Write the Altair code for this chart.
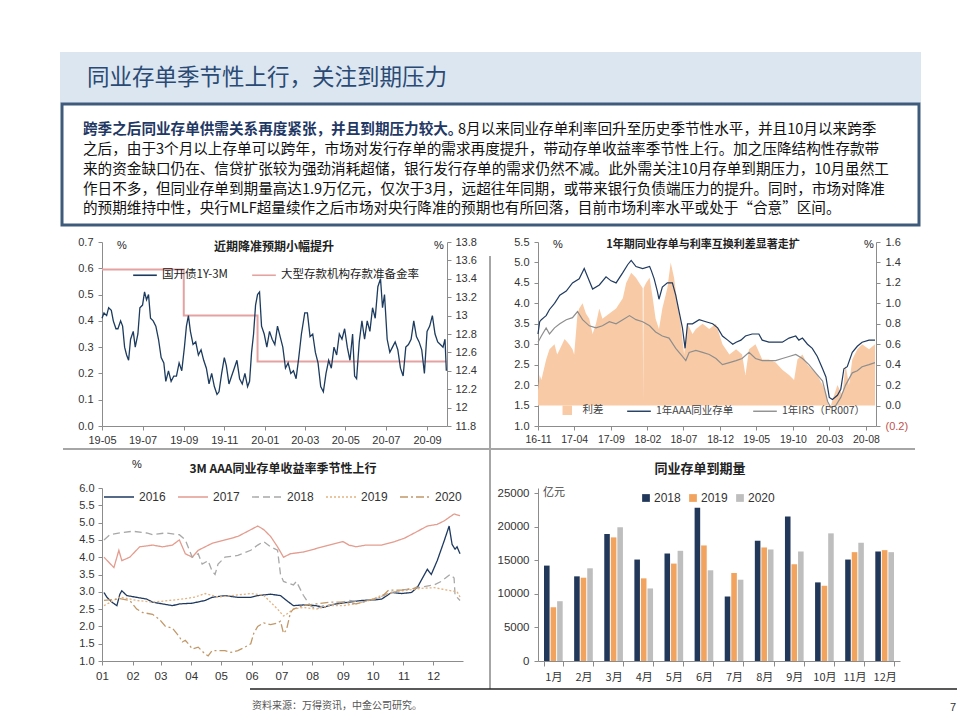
import altair as alt
import pandas as pd

CJK = "Noto Sans CJK SC"
NUM = "Liberation Sans"
AXC = "#8c8c8c"
LBC = "#333333"

# ---------------- page text ----------------
page_title = "同业存单季节性上行，关注到期压力"
lead_text = "跨季之后同业存单供需关系再度紧张，并且到期压力较大。"
body_lines = [
    "8月以来同业存单利率回升至历史季节性水平，并且10月以来跨季",
    "之后，由于3个月以上存单可以跨年，市场对发行存单的需求再度提升，带动存单收益率季节性上行。加之压降结构性存款带",
    "来的资金缺口仍在、信贷扩张较为强劲消耗超储，银行发行存单的需求仍然不减。此外需关注10月存单到期压力，10月虽然工",
    "作日不多，但同业存单到期量高达1.9万亿元，仅次于3月，远超往年同期，或带来银行负债端压力的提升。同时，市场对降准",
    "的预期维持中性，央行MLF超量续作之后市场对央行降准的预期也有所回落，目前市场利率水平或处于“合意”区间。",
]
source_text = "资料来源：万得资讯，中金公司研究。"
page_no = "7"

# ---------------- chart 1 data ----------------
c1_title = "近期降准预期小幅提升"
c1_series = ["国开债1Y-3M", "大型存款机构存款准备金率"]
cdb_dates = [
    "2019-05-01", "2019-05-04", "2019-05-08", "2019-05-11", "2019-05-15", "2019-05-18", "2019-05-22",
    "2019-05-25", "2019-05-29", "2019-06-01", "2019-06-04", "2019-06-07", "2019-06-10", "2019-06-13",
    "2019-06-17", "2019-06-20", "2019-06-24", "2019-06-27", "2019-07-01", "2019-07-04", "2019-07-07",
    "2019-07-10", "2019-07-13", "2019-07-17", "2019-07-21", "2019-07-25", "2019-07-29", "2019-08-02",
    "2019-08-05", "2019-08-09", "2019-08-13", "2019-08-17", "2019-08-21", "2019-08-25", "2019-08-29",
    "2019-09-02", "2019-09-05", "2019-09-08", "2019-09-11", "2019-09-15", "2019-09-19", "2019-09-23",
    "2019-09-27", "2019-10-01", "2019-10-05", "2019-10-09", "2019-10-13", "2019-10-17", "2019-10-21",
    "2019-10-24", "2019-10-28", "2019-11-01", "2019-11-04", "2019-11-08", "2019-11-12", "2019-11-16",
    "2019-11-20", "2019-11-24", "2019-11-28", "2019-12-02", "2019-12-06", "2019-12-09", "2019-12-12",
    "2019-12-15", "2019-12-18", "2019-12-21", "2019-12-24", "2019-12-27", "2019-12-31", "2020-01-04",
    "2020-01-08", "2020-01-12", "2020-01-16", "2020-01-20", "2020-01-24", "2020-01-28", "2020-02-01",
    "2020-02-05", "2020-02-09", "2020-02-13", "2020-02-17", "2020-02-21", "2020-02-25", "2020-03-01",
    "2020-03-05", "2020-03-09", "2020-03-13", "2020-03-17", "2020-03-21", "2020-03-25", "2020-03-29",
    "2020-04-02", "2020-04-06", "2020-04-10", "2020-04-14", "2020-04-18", "2020-04-22", "2020-04-26",
    "2020-04-30", "2020-05-04", "2020-05-08", "2020-05-12", "2020-05-15", "2020-05-18", "2020-05-22",
    "2020-05-26", "2020-05-30", "2020-06-03", "2020-06-07", "2020-06-11", "2020-06-15", "2020-06-19",
    "2020-06-23", "2020-06-26", "2020-06-29", "2020-07-03", "2020-07-07", "2020-07-11", "2020-07-15",
    "2020-07-19", "2020-07-23", "2020-07-27", "2020-07-31", "2020-08-04", "2020-08-08", "2020-08-12",
    "2020-08-16", "2020-08-20", "2020-08-24", "2020-08-28", "2020-09-01", "2020-09-05", "2020-09-09",
    "2020-09-13", "2020-09-17", "2020-09-21", "2020-09-25", "2020-09-28", "2020-09-30",
]
cdb_vals = [
    0.41, 0.43, 0.42, 0.45, 0.44, 0.40, 0.37, 0.37, 0.40, 0.38, 0.30, 0.27, 0.25, 0.33,
    0.36, 0.30, 0.35, 0.45, 0.46, 0.51, 0.48, 0.50, 0.41, 0.40, 0.38, 0.33, 0.26, 0.24,
    0.17, 0.21, 0.17, 0.19, 0.19, 0.24, 0.21, 0.30, 0.38, 0.42, 0.36, 0.31, 0.32, 0.27,
    0.29, 0.25, 0.22, 0.16, 0.20, 0.15, 0.12, 0.13, 0.20, 0.26, 0.23, 0.16, 0.19, 0.22,
    0.25, 0.18, 0.16, 0.20, 0.15, 0.17, 0.28, 0.35, 0.46, 0.50, 0.51, 0.38, 0.35, 0.30,
    0.36, 0.33, 0.31, 0.38, 0.34, 0.30, 0.22, 0.24, 0.20, 0.21, 0.18, 0.26, 0.35, 0.43,
    0.43, 0.34, 0.35, 0.28, 0.24, 0.15, 0.13, 0.20, 0.25, 0.22, 0.30, 0.27, 0.35, 0.33,
    0.37, 0.30, 0.25, 0.35, 0.19, 0.18, 0.32, 0.40, 0.33, 0.40, 0.36, 0.45, 0.41, 0.53,
    0.56, 0.45, 0.50, 0.33, 0.28, 0.30, 0.32, 0.29, 0.22, 0.19, 0.30, 0.31, 0.33, 0.40,
    0.34, 0.32, 0.29, 0.20, 0.36, 0.38, 0.42, 0.35, 0.32, 0.31, 0.30, 0.33, 0.21,
]
rrr_dates = ["2019-05-01", "2019-09-01", "2019-12-21", "2020-09-30"]
rrr_vals = [13.5, 13.0, 12.5, 12.5]
c1_left_ticks = [0.0, 0.1, 0.2, 0.3, 0.4, 0.5, 0.6, 0.7]
c1_right_ticks = [11.8, 12.0, 12.2, 12.4, 12.6, 12.8, 13.0, 13.2, 13.4, 13.6, 13.8]
c1_x_ticks = ["2019-05-01", "2019-07-01", "2019-09-01", "2019-11-01", "2020-01-01",
              "2020-03-01", "2020-05-01", "2020-07-01", "2020-09-01"]
c1_x_domain = ["2019-05-01", "2020-10-01"]

# ---------------- chart 2 data ----------------
c2_title = "1年期同业存单与利率互换利差显著走扩"
c2_series = ["利差", "1年AAA同业存单", "1年IRS（FR007）"]
cd_dates = [
    "2016-11-01", "2016-11-08", "2016-11-15", "2016-11-25", "2016-12-05", "2016-12-19", "2017-01-09",
    "2017-01-31", "2017-02-27", "2017-03-25", "2017-04-22", "2017-05-13", "2017-05-27", "2017-06-17",
    "2017-07-15", "2017-08-12", "2017-09-02", "2017-09-23", "2017-10-21", "2017-11-11", "2017-11-25",
    "2017-12-15", "2018-01-12", "2018-02-10", "2018-02-17", "2018-03-01", "2018-03-14", "2018-03-21",
    "2018-04-04", "2018-04-25", "2018-05-16", "2018-05-30", "2018-06-13", "2018-06-27", "2018-07-08",
    "2018-07-18", "2018-08-08", "2018-09-05", "2018-10-03", "2018-10-31", "2018-11-21", "2018-12-11",
    "2019-01-02", "2019-01-23", "2019-02-06", "2019-02-26", "2019-03-17", "2019-04-14", "2019-05-12",
    "2019-05-26", "2019-06-23", "2019-07-21", "2019-08-18", "2019-09-15", "2019-10-13", "2019-10-26",
    "2019-11-10", "2019-12-01", "2019-12-21", "2020-01-11", "2020-02-02", "2020-02-16", "2020-03-01",
    "2020-03-14", "2020-04-04", "2020-04-18", "2020-05-01", "2020-05-15", "2020-06-05", "2020-06-26",
    "2020-07-16", "2020-08-14", "2020-09-08",
]
cd_vals = [
    3.25, 3.55, 3.6, 3.65, 3.7, 3.85, 4.0, 4.2, 4.3, 4.5, 4.6, 4.85, 4.65, 4.35,
    4.45, 4.65, 4.55, 4.5, 4.75, 4.95, 5.05, 4.9, 4.85, 4.9, 4.8, 4.6, 4.3, 4.1,
    4.4, 4.5, 4.5, 4.2, 3.8, 3.4, 2.9, 3.5, 3.5, 3.6, 3.55, 3.5, 3.4, 3.2,
    3.1, 3.0, 3.05, 3.1, 3.2, 3.25, 3.25, 3.1, 3.05, 3.05, 3.05, 3.15, 3.2, 3.1,
    3.15, 3.0, 2.9, 2.7, 2.4, 2.2, 1.7, 1.65, 1.75, 1.9, 2.4, 2.45, 2.8, 2.95,
    3.05, 3.1, 3.1,
]
irs_dates = [
    "2016-11-01", "2016-11-15", "2016-12-05", "2016-12-19", "2017-01-09", "2017-01-31", "2017-02-27",
    "2017-03-25", "2017-04-15", "2017-05-06", "2017-06-03", "2017-07-01", "2017-07-28", "2017-08-26",
    "2017-09-23", "2017-10-21", "2017-11-18", "2017-12-15", "2018-01-12", "2018-02-10", "2018-03-07",
    "2018-04-04", "2018-05-02", "2018-05-30", "2018-06-27", "2018-07-11", "2018-07-25", "2018-08-22",
    "2018-09-19", "2018-10-17", "2018-11-14", "2018-12-11", "2019-01-09", "2019-02-06", "2019-03-03",
    "2019-04-01", "2019-04-28", "2019-05-26", "2019-06-23", "2019-07-21", "2019-08-18", "2019-09-15",
    "2019-10-13", "2019-11-10", "2019-12-07", "2020-01-04", "2020-02-02", "2020-02-23", "2020-03-07",
    "2020-03-28", "2020-04-18", "2020-05-08", "2020-06-05", "2020-06-26", "2020-07-16", "2020-08-14",
    "2020-09-08",
]
irs_vals = [
    3.05, 3.2, 3.4, 3.25, 3.4, 3.5, 3.6, 3.65, 3.8, 3.6, 3.45, 3.4, 3.45, 3.55,
    3.5, 3.6, 3.7, 3.6, 3.55, 3.45, 3.3, 3.2, 3.15, 2.9, 2.7, 2.6, 2.8, 2.85,
    2.8, 2.75, 2.65, 2.5, 2.55, 2.6, 2.65, 2.8, 2.65, 2.6, 2.6, 2.6, 2.65, 2.7,
    2.75, 2.65, 2.5, 2.3, 2.1, 1.6, 1.45, 1.5, 1.7, 2.0, 2.3, 2.35, 2.45, 2.5,
    2.55,
]
spread_dates = [
    "2016-11-01", "2016-11-08", "2016-11-15", "2016-11-25", "2016-12-05", "2016-12-19", "2017-01-09",
    "2017-01-20", "2017-01-31", "2017-02-20", "2017-03-11", "2017-03-25", "2017-04-01", "2017-04-15",
    "2017-04-22", "2017-05-06", "2017-05-20", "2017-06-03", "2017-06-17", "2017-07-01", "2017-07-15",
    "2017-07-28", "2017-08-26", "2017-09-23", "2017-10-21", "2017-11-04", "2017-11-25", "2017-12-15",
    "2017-12-29", "2018-01-12", "2018-01-14", "2018-01-16", "2018-01-26", "2018-02-10", "2018-02-23",
    "2018-03-07", "2018-03-21", "2018-04-04", "2018-04-25", "2018-05-09", "2018-05-23", "2018-06-06",
    "2018-06-20", "2018-07-04", "2018-07-18", "2018-08-08", "2018-08-22", "2018-09-19", "2018-10-17",
    "2018-11-14", "2018-12-11", "2019-01-09", "2019-02-06", "2019-03-03", "2019-03-17", "2019-04-01",
    "2019-04-28", "2019-05-26", "2019-06-23", "2019-07-21", "2019-08-18", "2019-09-15", "2019-10-06",
    "2019-10-20", "2019-11-10", "2019-12-01", "2019-12-21", "2020-01-11", "2020-02-02", "2020-02-16",
    "2020-03-01", "2020-03-14", "2020-04-04", "2020-04-25", "2020-05-08", "2020-05-22", "2020-06-05",
    "2020-06-26", "2020-07-16", "2020-08-14", "2020-09-08",
]
spread_vals = [
    0.15, 0.3, 0.25, 0.35, 0.45, 0.55, 0.6, 0.5, 0.55, 0.65, 0.6, 0.55, 0.5, 0.9,
    0.95, 1.0, 0.9, 0.85, 0.7, 0.8, 0.95, 0.85, 0.9, 0.95, 1.05, 1.2, 1.3, 1.25,
    1.2, 1.15, 0.05, 1.15, 1.2, 1.25, 1.05, 0.85, 0.75, 0.95, 1.15, 1.4, 1.25, 1.0,
    0.8, 0.5, 0.8, 0.7, 0.75, 0.8, 0.75, 0.8, 0.6, 0.5, 0.55, 0.5, 0.3, 0.55,
    0.6, 0.45, 0.45, 0.42, 0.35, 0.3, 0.25, 0.45, 0.5, 0.4, 0.35, 0.3, 0.2, 0.12,
    -0.05, 0.05, 0.2, 0.1, 0.4, 0.2, 0.45, 0.55, 0.6, 0.55, 0.6,
]
c2_left_ticks = [1.0, 1.5, 2.0, 2.5, 3.0, 3.5, 4.0, 4.5, 5.0, 5.5]
c2_right_ticks = [-0.2, 0.0, 0.2, 0.4, 0.6, 0.8, 1.0, 1.2, 1.4, 1.6]
c2_x_ticks = ["2016-11-01", "2017-04-01", "2017-09-01", "2018-02-01", "2018-07-01",
              "2018-12-01", "2019-05-01", "2019-10-01", "2020-03-01", "2020-08-01"]
c2_x_domain = ["2016-11-01", "2020-09-12"]

# ---------------- chart 3 data ----------------
c3_title = "3M AAA同业存单收益率季节性上行"
c3_years = ["2016", "2017", "2018", "2019", "2020"]
doy_2016 = [2, 5, 10, 15, 18, 20, 25, 35, 45, 51, 61, 71, 78, 91, 104, 111, 124, 137, 150, 157, 170,
            180, 186, 193, 203, 216, 223, 236, 249, 262, 276, 282, 292, 302, 312, 318, 328, 332, 338,
            345, 350, 353, 356, 358, 361]
val_2016 = [2.98, 2.84, 2.7, 2.6, 2.93, 3.03, 2.89, 2.84, 2.79, 2.7, 2.65, 2.6, 2.65, 2.67, 2.75,
            2.84, 2.89, 2.84, 2.84, 2.89, 2.93, 2.89, 2.75, 2.6, 2.62, 2.6, 2.55, 2.65, 2.7, 2.75,
            2.77, 2.79, 2.98, 2.95, 2.98, 3.13, 3.65, 3.5, 3.9, 4.47, 4.9, 4.37, 4.23, 4.3, 4.1]
doy_2017 = [2, 12, 17, 20, 28, 38, 51, 61, 71, 78, 81, 84, 91, 97, 104, 111, 124, 137, 147, 157, 163,
            170, 177, 183, 190, 203, 216, 229, 243, 249, 256, 266, 282, 295, 305, 315, 328, 338, 345,
            355, 361]
val_2017 = [4.0, 3.7, 4.2, 3.9, 4.0, 4.3, 4.35, 4.3, 4.35, 4.5, 4.3, 4.1, 4.0, 4.2, 4.3, 4.4, 4.5,
            4.6, 4.75, 4.9, 4.8, 4.6, 4.3, 4.0, 4.1, 4.15, 4.25, 4.35, 4.45, 4.35, 4.3, 4.35, 4.35,
            4.45, 4.55, 4.7, 4.9, 4.95, 5.05, 5.25, 5.2]
doy_2018 = [2, 8, 18, 31, 45, 51, 64, 78, 84, 91, 97, 101, 107, 111, 114, 117, 124, 137, 150, 157,
            163, 170, 177, 180, 183, 193, 196, 203, 210, 216, 223, 236, 249, 262, 276, 289, 302, 315,
            325, 335, 342, 351, 355, 356, 361]
val_2018 = [4.5, 4.65, 4.7, 4.75, 4.7, 4.65, 4.7, 4.65, 4.5, 4.0, 4.1, 3.8, 3.9, 3.6, 3.5, 3.8, 4.0,
            4.05, 4.2, 4.35, 4.45, 4.3, 4.2, 3.5, 3.3, 3.2, 3.3, 2.9, 2.6, 2.5, 2.6, 2.65, 2.75, 2.7,
            2.8, 2.95, 3.05, 3.1, 3.15, 3.2, 3.3, 3.5, 3.4, 2.9, 2.75]
doy_2019 = [2, 12, 18, 35, 51, 68, 84, 94, 104, 117, 134, 150, 163, 170, 177, 183, 186, 193, 203, 216,
            229, 243, 256, 269, 282, 295, 309, 322, 335, 348, 358, 361]
val_2019 = [2.6, 2.75, 2.85, 2.75, 2.7, 2.75, 2.8, 2.85, 2.95, 2.85, 2.9, 2.95, 2.9, 2.7, 2.5, 2.3,
            2.35, 2.5, 2.55, 2.5, 2.6, 2.6, 2.65, 2.75, 2.9, 3.0, 3.05, 3.1, 3.12, 3.05, 3.0, 2.85]
doy_2020 = [2, 18, 28, 35, 41, 51, 58, 64, 71, 78, 81, 84, 87, 91, 97, 104, 107, 111, 117, 124, 130,
            137, 144, 150, 153, 157, 163, 170, 177, 180, 183, 186, 190, 193, 203, 216, 229, 243, 256,
            269, 282, 289, 302, 315, 318]
val_2020 = [2.75, 2.8, 2.75, 2.5, 2.4, 2.35, 2.2, 2.0, 1.95, 1.7, 1.55, 1.6, 1.5, 1.35, 1.4, 1.2,
            1.15, 1.3, 1.3, 1.3, 1.25, 1.3, 1.4, 1.5, 1.8, 2.0, 2.1, 2.05, 2.1, 2.15, 1.8, 1.9, 2.4,
            2.5, 2.6, 2.65, 2.7, 2.7, 2.65, 2.75, 2.85, 3.05, 3.05, 3.1, 3.15]
c3_y_ticks = [1.0, 1.5, 2.0, 2.5, 3.0, 3.5, 4.0, 4.5, 5.0, 5.5, 6.0]

# ---------------- chart 4 data ----------------
c4_title = "同业存单到期量"
c4_unit = "亿元"
months = ["1月", "2月", "3月", "4月", "5月", "6月", "7月", "8月", "9月", "10月", "11月", "12月"]
mat_2018 = [14200, 12600, 18900, 15100, 16000, 22800, 9600, 17900, 21500, 11700, 15100, 16300]
mat_2019 = [8000, 12400, 18400, 12300, 14500, 17200, 13100, 16900, 14400, 11200, 16200, 16500]
mat_2020 = [8900, 13800, 19900, 10800, 16400, 13500, 12100, 16600, 16300, 19000, 17600, 16200]
c4_years = ["2018", "2019", "2020"]
c4_y_ticks = [0, 5000, 10000, 15000, 20000, 25000]


# ================= helpers =================
def dt(s):
    return alt.DateTime(year=int(s[:4]), month=int(s[5:7]), date=int(s[8:10]))


def ax(**kw):
    base = dict(grid=False, domainColor=AXC, tickColor=AXC, labelColor=LBC, labelFont=NUM,
                labelFontSize=11, tickSize=4, title=None, labelPadding=3, domainWidth=1)
    base.update(kw)
    return alt.Axis(**base)


ONE = pd.DataFrame({"k": [0]})


def txt(t, x, y, **kw):
    style = dict(font=CJK, fontSize=11, color="#222222", align="center", baseline="middle")
    style.update(kw)
    return alt.Chart(pd.DataFrame({"t": [t]})).mark_text(**style).encode(
        x=alt.value(x), y=alt.value(y), text="t:N")


def rect(x, x2, y, y2, **kw):
    return alt.Chart(ONE).mark_rect(**kw).encode(
        x=alt.value(x), x2=alt.value(x2), y=alt.value(y), y2=alt.value(y2))


def rule(x, x2, y, y2, **kw):
    return alt.Chart(ONE).mark_rule(**kw).encode(
        x=alt.value(x), x2=alt.value(x2), y=alt.value(y), y2=alt.value(y2))


def spacer(w, h):
    return alt.Chart(ONE).mark_point(opacity=0).encode(
        x=alt.value(0), y=alt.value(0)).properties(width=w, height=h)


# ================= header / page decoration (drawn in a 1-px wide cell at the origin) =================
BODY_FS = 14.6
HEAD_H = 177
header = alt.layer(
    rect(57, 918, 49, 100, color="#DCE6F1"),
    rect(59, 916, 101, 222, fill="white", stroke="#3E5B7B", strokeWidth=3),
    txt(page_title, 84, 75, fontSize=22.5, color="#2A4A74", align="left"),
    txt(lead_text, 80, 127, fontSize=BODY_FS, color="#1F3864", fontWeight="bold", align="left"),
    txt(body_lines[0], 455, 127, fontSize=BODY_FS, color="#111111", align="left"),
    txt(body_lines[1], 80, 147, fontSize=BODY_FS, color="#111111", align="left"),
    txt(body_lines[2], 80, 167, fontSize=BODY_FS, color="#111111", align="left"),
    txt(body_lines[3], 80, 187, fontSize=BODY_FS, color="#111111", align="left"),
    txt(body_lines[4], 80, 206, fontSize=BODY_FS, color="#111111", align="left"),
    rule(60, 912, 446, 446, color="#A6A6A6", strokeWidth=2),
    rule(487, 487, 253, 686, color="#A6A6A6", strokeWidth=2),
    rule(247, 954, 686, 686, color="#222222", strokeWidth=1.5),
    txt(source_text, 249, 703, fontSize=10, color="#555555", align="left"),
    txt(page_no, 950, 705, fontSize=11, color="#333333", font=NUM),
).properties(width=1, height=HEAD_H)

# ================= chart 1 =================
W1, H1 = 345, 184
df1a = pd.DataFrame({"date": pd.to_datetime(cdb_dates), "v": cdb_vals, "s": c1_series[0]})
df1b = pd.DataFrame({"date": pd.to_datetime(rrr_dates), "v": rrr_vals, "s": c1_series[1]})
col1 = alt.Scale(domain=c1_series, range=["#1C3B5E", "#E4A2A0"])
leg1 = alt.Legend(orient="none", legendX=30, legendY=20, direction="horizontal", columns=2,
                  title=None, symbolType="stroke", symbolSize=560, symbolStrokeWidth=1.6,
                  labelFont=CJK, labelFontSize=11.5, labelColor="#222222", labelOffset=4,
                  columnPadding=20)
x1 = alt.X("date:T", scale=alt.Scale(domain=[dt(d) for d in c1_x_domain]),
           axis=ax(values=[dt(d) for d in c1_x_ticks], format="%y-%m", labelPadding=4,
                   labelOverlap=False, labelFlush=False))
c1_rrr = alt.Chart(df1b).mark_line(strokeWidth=2, interpolate="step-after").encode(
    x=x1,
    y=alt.Y("v:Q", scale=alt.Scale(domain=[11.8, 13.8], nice=False),
            axis=ax(orient="right", values=c1_right_ticks, format=".3~g", labelPadding=4)),
    color=alt.Color("s:N", scale=col1, legend=leg1),
)
c1_cdb = alt.Chart(df1a).mark_line(strokeWidth=1.3).encode(
    x=x1,
    y=alt.Y("v:Q", scale=alt.Scale(domain=[0, 0.7], nice=False),
            axis=ax(orient="left", values=c1_left_ticks, format=".1f", labelPadding=5)),
    color=alt.Color("s:N", scale=col1, legend=leg1),
)
c1 = alt.layer(
    c1_rrr, c1_cdb,
    txt(c1_title, 172, 5, fontWeight="bold", fontSize=12),
    txt("%", 20, 4, font=NUM, fontSize=11),
    txt("%", 337, 4, font=NUM, fontSize=11),
).resolve_scale(y="independent").properties(width=W1, height=H1)

# ================= chart 2 =================
W2, H2 = 338, 184
df2s = pd.DataFrame({"date": pd.to_datetime(spread_dates), "v": spread_vals, "s": c2_series[0]})
df2l = pd.concat([
    pd.DataFrame({"date": pd.to_datetime(irs_dates), "v": irs_vals, "s": c2_series[2]}),
    pd.DataFrame({"date": pd.to_datetime(cd_dates), "v": cd_vals, "s": c2_series[1]}),
])
x2 = alt.X("date:T", scale=alt.Scale(domain=[dt(d) for d in c2_x_domain]),
           axis=ax(values=[dt(d) for d in c2_x_ticks], format="%y-%m", labelPadding=4,
                   labelOverlap=False, labelFlush=False, labelFontSize=10.5))
c2_area = alt.Chart(df2s).mark_area(opacity=1).encode(
    x=x2,
    y=alt.Y("v:Q", scale=alt.Scale(domain=[-0.2, 1.6], nice=False),
            axis=ax(orient="right", values=c2_right_ticks, labelPadding=5,
                    labelExpr="datum.value < 0 ? '(' + format(-datum.value, '.1f') + ')' : format(datum.value, '.1f')",
                    labelColor={"condition": {"test": "datum.value < 0", "value": "#C0504D"},
                                "value": LBC})),
    fill=alt.Fill("s:N", scale=alt.Scale(domain=[c2_series[0]], range=["#F8CBA6"]),
                  legend=alt.Legend(orient="none", legendX=24, legendY=163, title=None,
                                    symbolType="square", symbolSize=90, symbolStrokeWidth=0,
                                    labelFont=CJK, labelFontSize=10.5, labelColor="#444444",
                                    labelOffset=10)),
)
c2_lines = alt.Chart(df2l).mark_line(strokeWidth=1.2).encode(
    x=x2,
    y=alt.Y("v:Q", scale=alt.Scale(domain=[1.0, 5.5], nice=False),
            axis=ax(orient="left", values=c2_left_ticks, format=".1f", labelPadding=5)),
    stroke=alt.Stroke("s:N", scale=alt.Scale(domain=[c2_series[1], c2_series[2]],
                                             range=["#1F3A60", "#8E8E8E"]),
                      legend=alt.Legend(orient="none", legendX=88, legendY=156, title=None,
                                        direction="horizontal", columns=2, symbolType="stroke",
                                        symbolSize=560, symbolStrokeWidth=1.4, labelFont=CJK,
                                        labelFontSize=10.5, labelColor="#444444", labelOffset=4,
                                        columnPadding=16)),
)
c2 = alt.layer(
    c2_area, c2_lines,
    txt(c2_title, 165, 3, fontWeight="bold", fontSize=11),
    txt("%", 20, 3, font=NUM, fontSize=11),
    txt("%", 331, 3, font=NUM, fontSize=11),
).resolve_scale(y="independent").properties(width=W2, height=H2)

# ================= chart 3 =================
W3, H3 = 361, 173
base = pd.Timestamp("2019-01-01")
frames = []
for yr, dd, vv in zip(c3_years, [doy_2016, doy_2017, doy_2018, doy_2019, doy_2020],
                      [val_2016, val_2017, val_2018, val_2019, val_2020]):
    frames.append(pd.DataFrame({"date": base + pd.to_timedelta(dd, unit="D"), "v": vv, "yr": yr}))
df3 = pd.concat(frames)
leg3 = alt.Legend(orient="none", legendX=1, legendY=-7, direction="horizontal", columns=5,
                  title=None, symbolType="stroke", symbolSize=900, symbolStrokeWidth=1.4,
                  labelFont=NUM, labelFontSize=12, labelColor="#333333", labelOffset=4,
                  columnPadding=9)
c3_lines = alt.Chart(df3).mark_line(strokeWidth=1.3).encode(
    x=alt.X("date:T", scale=alt.Scale(domain=[dt("2019-01-01"), dt("2019-12-31")]),
            axis=ax(values=[dt("2019-%02d-01" % m) for m in range(1, 13)], format="%m",
                    labelPadding=5, labelFontSize=11.5, labelOverlap=False, labelFlush=False)),
    y=alt.Y("v:Q", scale=alt.Scale(domain=[1.0, 6.0], nice=False),
            axis=ax(values=c3_y_ticks, format=".1f", labelPadding=4)),
    color=alt.Color("yr:N", scale=alt.Scale(domain=c3_years,
                                            range=["#1F3A60", "#E39C8E", "#A8A8A8", "#E3B27E", "#C29868"]),
                    legend=leg3),
    strokeDash=alt.StrokeDash("yr:N", scale=alt.Scale(domain=c3_years,
                                                      range=[[1, 0], [1, 0], [7, 4], [2, 2], [8, 3, 2, 3]]),
                              legend=leg3),
)
c3 = alt.layer(
    c3_lines,
    txt(c3_title, 181, -19, fontWeight="bold", fontSize=12),
    txt("%", 35, -23, font=NUM, fontSize=11),
).properties(width=W3, height=H3)

# ================= chart 4 =================
W4, H4 = 362, 173
rows4 = []
for yr, vals in zip(c4_years, [mat_2018, mat_2019, mat_2020]):
    for m, v in zip(months, vals):
        rows4.append({"m": m, "yr": yr, "v": v})
df4 = pd.DataFrame(rows4)
c4_bars = alt.Chart(df4).mark_bar().encode(
    x=alt.X("m:N", sort=months, scale=alt.Scale(paddingInner=0.38, paddingOuter=0.2),
            axis=ax(tickBand="extent", labelAngle=0, labelFont=CJK, labelFontSize=11,
                    labelPadding=5, tickSize=5)),
    xOffset=alt.XOffset("yr:N", sort=c4_years, scale=alt.Scale(paddingInner=0.15)),
    y=alt.Y("v:Q", scale=alt.Scale(domain=[0, 25750], nice=False),
            axis=ax(values=c4_y_ticks, format="d", labelPadding=5, labelFontSize=11.5)),
    color=alt.Color("yr:N", scale=alt.Scale(domain=c4_years, range=["#22385A", "#F2A35E", "#BEBEBE"]),
                    legend=alt.Legend(orient="none", legendX=102, legendY=4, direction="horizontal",
                                      columns=3, title=None, symbolType="square", symbolSize=60,
                                      labelFont=NUM, labelFontSize=12, labelColor="#333333",
                                      labelOffset=2, columnPadding=6)),
)
c4 = alt.layer(
    c4_bars,
    txt(c4_title, 162, -19, fontWeight="bold", fontSize=13),
    txt(c4_unit, 16, 5, fontSize=11, color="#444444"),
).properties(width=W4, height=H4)

# ================= layout (grid, per-column alignment, flush bounds) =================
IND = dict(color="independent", fill="independent", stroke="independent", strokeDash="independent")
LEFT, GAP = 99, 75
cells = [
    header, spacer(1, HEAD_H), spacer(1, HEAD_H), spacer(1, HEAD_H),
    spacer(LEFT, H1), c1, spacer(GAP, H1), c2,
    spacer(LEFT, H3), c3, spacer(GAP, H3), c4,
]
chart = alt.concat(*cells, columns=4, align="each", bounds="flush",
                   spacing={"row": 62, "column": 0}).resolve_scale(**IND).resolve_legend(**IND)
chart = chart.properties(padding=0, background="white").configure(
    font=CJK, view=alt.ViewConfig(stroke=None))

chart.save("out.html", embed_options={"renderer": "svg", "actions": False})
